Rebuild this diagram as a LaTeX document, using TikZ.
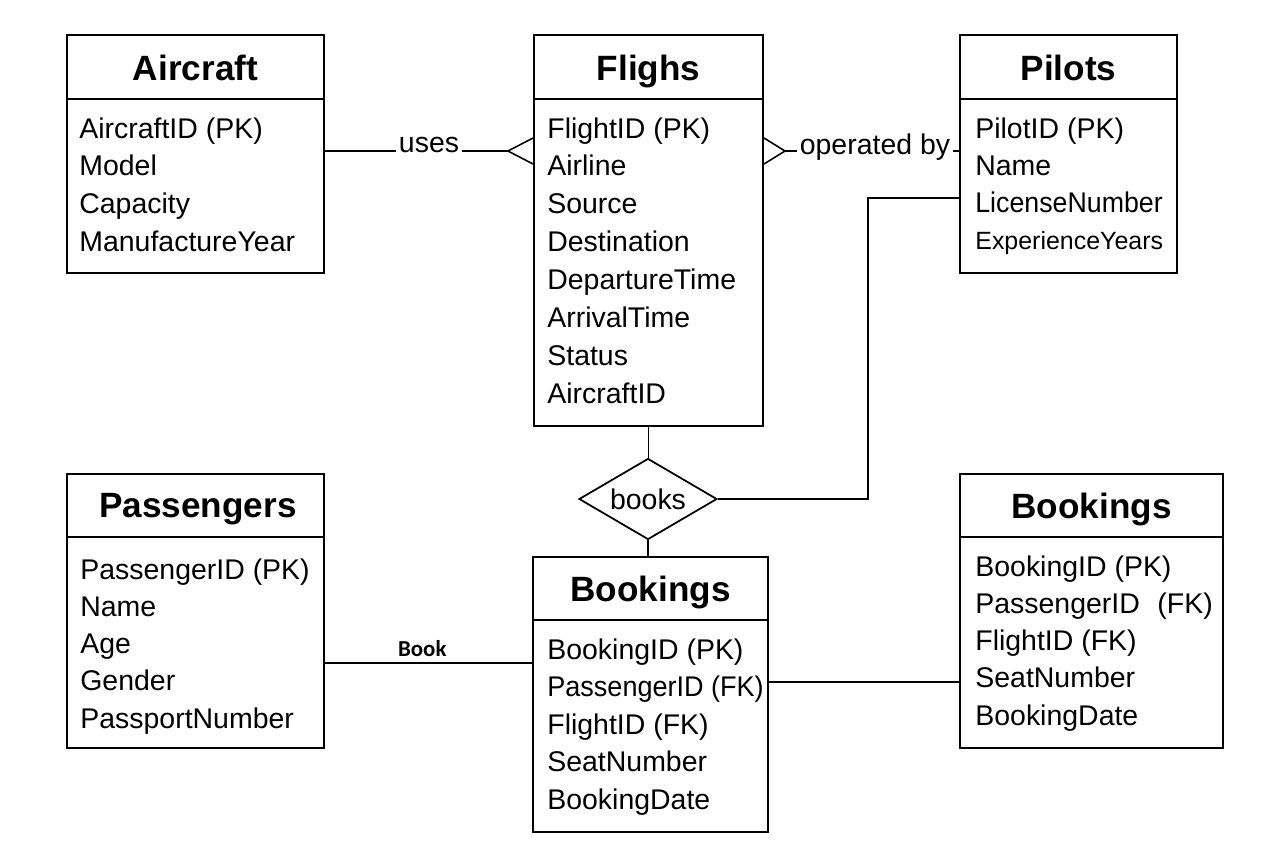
\documentclass[tikz,border=0pt]{standalone}
\usepackage{fontspec}
\setmainfont{Liberation Sans}
\newfontfamily\calfont{Carlito}
\usetikzlibrary{arrows,positioning,shapes.geometric}
\tikzset{
    %Define style for entity boxes
    entity/.style={
           rectangle,
           draw=black, line width=1.15pt,
           inner sep=0pt,
           anchor=north west},
    %Define style for entity titles
    tabtitle/.style={
           font=\fontsize{20}{24}\selectfont\bfseries,
           anchor=base,
           inner sep=0pt},
    %Define style for attribute rows
    attr/.style={
           font=\fontsize{16.2}{19}\selectfont,
           anchor=base west,
           inner sep=0pt},
    %Define style for relation labels
    lbl/.style={
           font=\fontsize{16.2}{19}\selectfont,
           anchor=base,
           inner xsep=1.5pt},
    rel/.style={
           diamond,
           aspect=1.7,
           draw=black, line width=1pt,
           minimum width=2.76cm,
           minimum height=1.62cm,
           inner sep=0pt,
           font=\fontsize{16.2}{19}\selectfont},
    % Define line styles
    sep/.style={line width=0.8pt},
    con/.style={line width=0.9pt},
    fat/.style={line width=1.3pt}
}

\begin{document}
\begin{tikzpicture}[x=0.02cm,y=-0.02cm]
\useasboundingbox (0,0) rectangle (1280,853);

% entities
\node[entity, minimum width=5.14cm, minimum height=4.76cm](air) at (66,34){};
\node[entity, minimum width=4.58cm, minimum height=7.82cm](fli) at (533,34){};
\node[entity, minimum width=4.34cm, minimum height=4.76cm](pil) at (959,34){};
\node[entity, minimum width=5.14cm, minimum height=5.48cm](pas) at (66,473){};
\node[entity, minimum width=4.70cm, minimum height=5.50cm](bkc) at (532,556){};
\node[entity, minimum width=5.26cm, minimum height=5.48cm](bkr) at (959,473){};

% titles and dividers
\node[tabtitle](airT) at (air.north |- 0,80){Aircraft};
\node[tabtitle](fliT) at (fli.north |- 0,80){Flighs};
\node[tabtitle](pilT) at (pil.north |- 0,80){Pilots};
\node[tabtitle](pasT) at (198,517){Passengers};
\node[tabtitle](bkcT) at (bkc.north |- 0,601){Bookings};
\node[tabtitle](bkrT) at (bkr.north |- 0,518){Bookings};

\draw[sep] (air.west |- 0,99) -- (air.east |- 0,99);
\draw[sep] (fli.west |- 0,99) -- (fli.east |- 0,99);
\draw[sep] (pil.west |- 0,99) -- (pil.east |- 0,99);
\draw[sep] (pas.west |- 0,537) -- (pas.east |- 0,537);
\draw[sep] (bkc.west |- 0,620) -- (bkc.east |- 0,620);
\draw[sep] (bkr.west |- 0,537) -- (bkr.east |- 0,537);

% attributes
\foreach \a [count=\i from 0] in {AircraftID (PK), Model, Capacity, ManufactureYear}
    \node[attr] at (79, 138+37.9*\i) {\a};
\foreach \a [count=\i from 0] in {FlightID (PK), Airline, Source, Destination, DepartureTime, ArrivalTime, Status, AircraftID}
    \node[attr] at (547, 138+37.9*\i) {\a};
\foreach \a [count=\i from 0] in {PilotID (PK), Name, {\scalebox{0.94}[1]{LicenseNumber}}, {\fontsize{14.2}{17}\selectfont ExperienceYears}}
    \node[attr] at (975, 138+37.3*\i) {\a};
\foreach \a [count=\i from 0] in {PassengerID (PK), Name, Age, Gender, PassportNumber}
    \node[attr] at (80, 579+37.3*\i) {\a};
\foreach \a [count=\i from 0] in {BookingID (PK), {\scalebox{0.95}[1]{PassengerID (FK)}}, FlightID (FK), SeatNumber, BookingDate}
    \node[attr] at (547, 659+37.5*\i) {\a};
\foreach \a [count=\i from 0] in {BookingID (PK), {PassengerID\hspace{10pt}(FK)}, FlightID (FK), SeatNumber, BookingDate}
    \node[attr] at (975, 576+37.3*\i) {\a};

% relations
\node[lbl](uses) at (429,152){uses};
\coordinate (cf1) at (508,151);
\draw[con] (air.east |- cf1) -- (uses.west |- cf1);
\draw[con] (uses.east |- cf1) -- (cf1);
\draw[con] (fli.west |- 0,138) -- (cf1) -- (fli.west |- 0,164);

\node[lbl](opby) at (875,154){operated by};
\coordinate (cf2) at (785,151);
\draw[con] (fli.east |- 0,138) -- (cf2) -- (fli.east |- 0,164);
\draw[con] (cf2) -- (opby.west |- cf2);
\draw[con] (opby.east |- cf2) -- (pil.west |- cf2);

\node[rel](books) at (648,499){books};
\coordinate (kink) at (868,198);
\draw[con] (fli.south) -- (fli.south |- books.north);
\draw[con] (books.south) -- (books.south |- bkc.north);
\draw[con] (books.east) -| (kink) -- (kink -| pil.west);

\draw[fat] (pas.east |- 0,663) -- node[pos=0.47, above, inner sep=3pt, font=\calfont\fontsize{13}{15}\selectfont\bfseries]{Book} (bkc.west |- 0,663);
\draw[con] (bkc.east |- 0,682) -- (bkr.west |- 0,682);
\end{tikzpicture}
\end{document}
